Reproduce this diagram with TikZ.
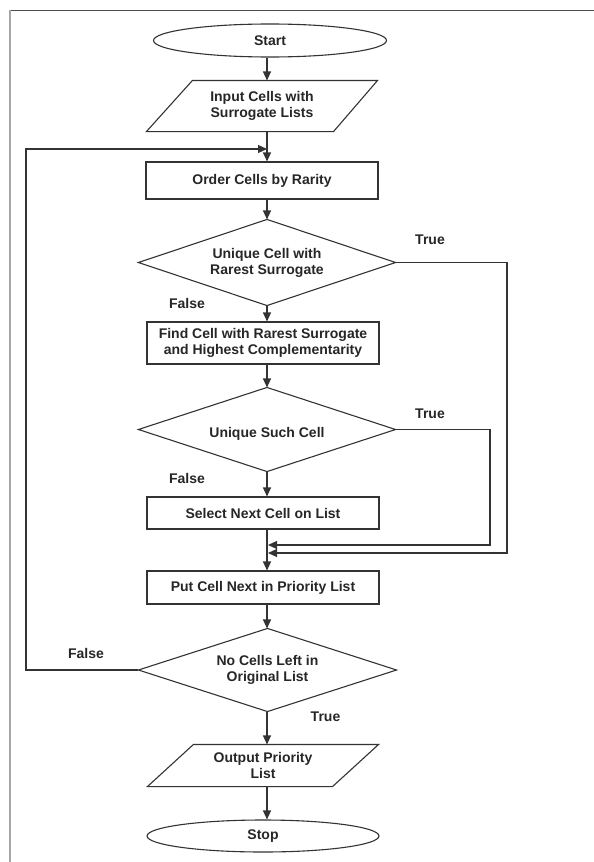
\documentclass[tikz,border=0pt]{standalone}
\usepackage{fontspec}
\setmainfont{Liberation Sans}
\usetikzlibrary{arrows.meta,shapes.geometric}
\begin{document}
\begin{tikzpicture}[x=1pt,y=-1pt,
  line width=1.1pt,
  every node/.style={font=\fontsize{14}{16}\selectfont\bfseries, text=black!85, align=center, inner sep=0pt},
  ln/.style={draw=black!80, line width=1.1pt},
  arr/.style={ln, -{Triangle[length=9pt,width=8pt]}},
  boxnode/.style={draw=black!80, line width=1.1pt, rectangle, minimum width=232pt, minimum height=#1},
  term/.style={draw=black!80, line width=1.1pt, ellipse, minimum width=#1, minimum height=33pt},
  hidden/.style={rectangle, minimum width=#1}]
\useasboundingbox (0,0) rectangle (594,862);
% frame
\draw[draw=black!70, line width=1.2pt] (9,10.5) -- (594,10.5);
\draw[draw=black!35, line width=2pt] (10,10) -- (10,862);
\coordinate (ax) at (267,0);
% nodes
\node[term=233pt] (start) at (270,40.5) {Start};
\node[hidden=230pt, minimum height=50pt] (in) at (262,106) {Input Cells with\\Surrogate Lists};
\draw[ln] (in.south west) -- ([xshift=-44pt]in.south east) -- (in.north east) -- ([xshift=46pt]in.north west) -- cycle;
\node[boxnode=37pt] (order) at (262,180.5) {Order Cells by Rarity};
\node[hidden=256pt, minimum height=85pt] (d1) at (267,262.5) {Unique Cell with\\Rarest Surrogate};
\draw[ln] (d1.north) -- (d1.east) -- (d1.south) -- (d1.west) -- cycle;
\node[boxnode=42pt] (find) at (263,343) {Find Cell with Rarest Surrogate\\and Highest Complementarity};
\node[hidden=256pt, minimum height=83pt] (d2) at (267,429.5) {};
\node (d2t) at (267,434) {Unique Such Cell};
\draw[ln] (d2.north) -- (d2.east) -- (d2.south) -- (d2.west) -- cycle;
\node[boxnode=32pt] (select) at (263,513) {Select Next Cell on List};
\node[boxnode=33pt] (put) at (263,587.5) {Put Cell Next in Priority List};
\node[hidden=257pt, minimum height=82pt] (d3) at (267.5,670) {No Cells Left in\\Original List};
\draw[ln] (d3.north) -- (d3.east) -- (d3.south) -- (d3.west) -- cycle;
\node[hidden=230pt, minimum height=41pt] (out) at (263,765.5) {Output Priority\\List};
\draw[ln] (out.south west) -- ([xshift=-46pt]out.south east) -- (out.north east) -- ([xshift=46pt]out.north west) -- cycle;
\node[term=232pt, minimum height=32pt] (stop) at (263,836) {Stop};
% labels
\node (t1) at (430,240) {True};
\node (f1) at (187,303) {False};
\node (t2) at (430,414) {True};
\node (f2) at (187,478) {False};
\node (f3) at (86,653) {False};
\node (t3) at (325.5,717) {True};
% coordinates for bends
\coordinate (j1) at (267,149);
\coordinate (lp1) at (26,670);
\coordinate (lp2) at (26,149);
\coordinate (r1) at (507,262.5);
\coordinate (r1b) at (507,553);
\coordinate (m1) at (268,553);
\coordinate (r2) at (490,429.5);
\coordinate (r2b) at (490,545);
\coordinate (m2) at (268,545);
% connectors
\draw[arr] (start.south -| ax) -- (in.north -| ax);
\draw[arr] (in.south -| ax) -- (order.north -| ax);
\draw[arr] (order.south -| ax) -- (d1.north);
\draw[arr] (d1.south) -- (find.north -| ax);
\draw[arr] (find.south -| ax) -- (d2.north);
\draw[arr] (d2.south) -- (select.north -| ax);
\draw[arr] (select.south -| ax) -- (put.north -| ax);
\draw[arr] (put.south -| ax) -- (d3.north -| ax);
\draw[arr] (d3.south -| ax) -- (out.north -| ax);
\draw[arr] (out.south -| ax) -- (stop.north -| ax);
\draw[arr] (d3.west) -- (lp1) -- (lp2) -- (j1);
\draw[arr] (d1.east) -- (r1) -- (r1b) -- (m1);
\draw[arr] (d2.east) -- (r2) -- (r2b) -- (m2);
\end{tikzpicture}
\end{document}
